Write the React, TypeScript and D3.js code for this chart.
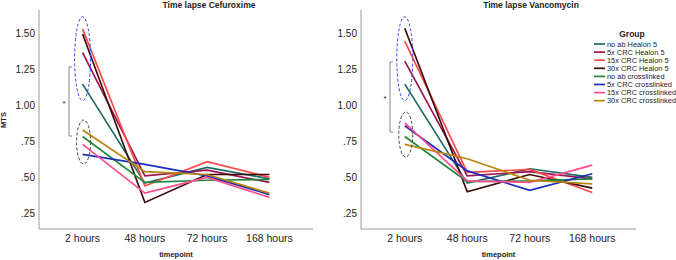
import React from "react";
import * as d3 from "d3";

const timepoints = ["2 hours", "48 hours", "72 hours", "168 hours"];
const groups = [
  "no ab Healon 5",
  "5x CRC Healon 5",
  "15x CRC Healon 5",
  "30x CRC Healon 5",
  "no ab crosslinked",
  "5x CRC crosslinked",
  "15x CRC crosslinked",
  "30x CRC crosslinked",
];
const groupColors = [
  "#1d6b66",
  "#9b1651",
  "#ff4a4a",
  "#3e0b0d",
  "#1f8a3c",
  "#1b2fb8",
  "#ff4c8c",
  "#b8860b",
];

// MTS per group over the four timepoints
const cefuroxime = [
  [1.15, 0.46, 0.57, 0.49],
  [1.37, 0.51, 0.55, 0.465],
  [1.535, 0.44, 0.61, 0.5],
  [1.5, 0.325, 0.52, 0.52],
  [0.785, 0.465, 0.48, 0.485],
  [0.66, 0.59, 0.51, 0.38],
  [0.73, 0.39, 0.5, 0.36],
  [0.83, 0.54, 0.52, 0.39],
];
const vancomycin = [
  [1.15, 0.46, 0.56, 0.5],
  [1.31, 0.51, 0.54, 0.49],
  [1.45, 0.535, 0.555, 0.395],
  [1.54, 0.4, 0.52, 0.425],
  [0.785, 0.47, 0.475, 0.49],
  [0.86, 0.545, 0.41, 0.525],
  [0.88, 0.475, 0.465, 0.585],
  [0.73, 0.63, 0.48, 0.455],
];
const yTicks = [0.25, 0.5, 0.75, 1.0, 1.25, 1.5];

const FONT = "'Liberation Sans', Arial, sans-serif";

const y = d3.scaleLinear().domain([0.14, 1.667]).range([229, 10]);
const fmt = (v: number) => (v < 1 ? d3.format(".2f")(v).replace(/^0/, "") : d3.format(".2f")(v));

type PanelProps = {
  title: string;
  titleX: number;
  data: number[][];
  x0: number;
  x1: number;
  showYLabel: boolean;
  bracketX: number;
  bracketTop: number;
  bracketBottom: number;
  upperEllipse: [number, number];
  lowerEllipse: [number, number];
};

function Panel(p: PanelProps) {
  const x = d3.scalePoint<string>().domain(timepoints).range([p.x0, p.x1]).padding(0.7);
  const line = d3
    .line<number>()
    .x((_, i) => x(timepoints[i]) as number)
    .y((v) => y(v));
  const cx = x(timepoints[0]) as number;
  const mid = (p.x0 + p.x1) / 2;
  const [uTop, uBot] = p.upperEllipse;
  const [lTop, lBot] = p.lowerEllipse;
  return (
    <g>
      <text x={p.titleX} y={7.5} textAnchor="middle" fontFamily={FONT} fontWeight="bold" fontSize={8.5} fill="#222">
        {p.title}
      </text>
      <line x1={p.x0} x2={p.x0} y1={y.range()[1]} y2={y.range()[0]} stroke="#9a9a9a" strokeWidth={1} />
      <line x1={p.x0} x2={p.x1} y1={y.range()[0]} y2={y.range()[0]} stroke="#9a9a9a" strokeWidth={1} />
      {yTicks.map((t) => (
        <text key={t} x={p.x0 - 4} y={y(t) + 3.5} textAnchor="end" fontFamily={FONT} fontSize={10} fill="#222">
          {fmt(t)}
        </text>
      ))}
      {timepoints.map((t) => (
        <text key={t} x={x(t)} y={242} textAnchor="middle" fontFamily={FONT} fontSize={10.5} fill="#222">
          {t}
        </text>
      ))}
      <text x={mid} y={257} textAnchor="middle" fontFamily={FONT} fontWeight="bold" fontSize={7.5} fill="#222">
        timepoint
      </text>
      {p.showYLabel && (
        <text
          transform={`translate(6,${y(0.9)}) rotate(-90)`}
          textAnchor="middle"
          fontFamily={FONT}
          fontWeight="bold"
          fontSize={7.5}
          fill="#222"
        >
          MTS
        </text>
      )}
      {p.data.map((vals, gi) => (
        <path key={gi} d={line(vals) as string} fill="none" stroke={groupColors[gi]} strokeWidth={1.7} />
      ))}
      <ellipse
        cx={cx}
        cy={(y(uTop) + y(uBot)) / 2}
        rx={8}
        ry={(y(uBot) - y(uTop)) / 2}
        fill="none"
        stroke="#3347f0"
        strokeWidth={1}
        strokeDasharray="3,2"
      />
      <ellipse
        cx={cx + 1}
        cy={(y(lTop) + y(lBot)) / 2}
        rx={7}
        ry={(y(lBot) - y(lTop)) / 2}
        fill="none"
        stroke="#444"
        strokeWidth={1}
        strokeDasharray="3,2"
      />
      <path
        d={`M${p.bracketX + 3},${y(p.bracketTop)}H${p.bracketX}V${y(p.bracketBottom)}H${p.bracketX + 3}`}
        fill="none"
        stroke="#888"
        strokeWidth={1}
      />
      <text
        x={p.bracketX - 5}
        y={(y(p.bracketTop) + y(p.bracketBottom)) / 2 + 4}
        textAnchor="middle"
        fontFamily={FONT}
        fontSize={8}
        fill="#222"
      >
        *
      </text>
    </g>
  );
}

export default function App() {
  return (
    <svg width={676} height={260} style={{ display: "block", position: "absolute", left: 0, top: 0 }}>
      <rect x={0} y={0} width={676} height={260} fill="#fff" />
      <Panel
        title="Time lapse Cefuroxime"
        titleX={209}
        data={cefuroxime}
        x0={39}
        x1={313}
        showYLabel={true}
        bracketX={69}
        bracketTop={1.27}
        bracketBottom={0.788}
        upperEllipse={[1.62, 1.035]}
        lowerEllipse={[0.9, 0.593]}
      />
      <Panel
        title="Time lapse Vancomycin"
        titleX={531}
        data={vancomycin}
        x0={361}
        x1={636}
        showYLabel={false}
        bracketX={390}
        bracketTop={1.305}
        bracketBottom={0.816}
        upperEllipse={[1.62, 1.035]}
        lowerEllipse={[0.956, 0.642]}
      />
      <g>
        <text x={632} y={37} textAnchor="middle" fontFamily={FONT} fontWeight="bold" fontSize={8.5} fill="#222">
          Group
        </text>
        {groups.map((g, i) => (
          <g key={g} transform={`translate(594,${44 + i * 8.1})`}>
            <line x1={0} x2={11} y1={0} y2={0} stroke={groupColors[i]} strokeWidth={1.7} />
            <text x={13} y={2.6} fontFamily={FONT} fontSize={7.4} fill="#222">
              {g}
            </text>
          </g>
        ))}
      </g>
    </svg>
  );
}
